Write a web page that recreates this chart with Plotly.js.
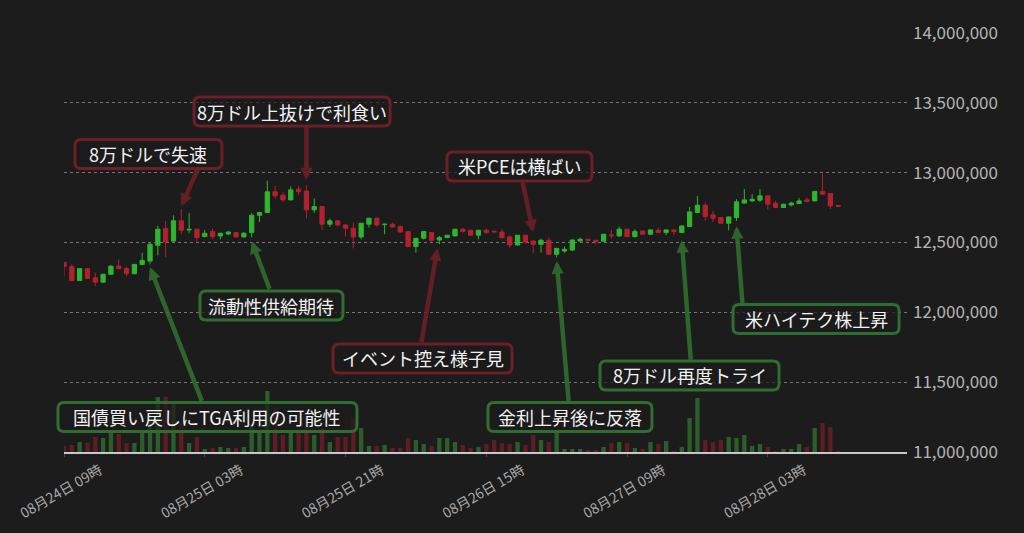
<!DOCTYPE html>
<html>
<head>
<meta charset="utf-8">
<script src="https://cdn.plot.ly/plotly-3.0.1.min.js"></script>
<style>
html,body{margin:0;padding:0;background:#1c1c1c;}
#chart{width:1024px;height:533px;}
</style>
</head>
<body>
<div id="chart"></div>
<script>
// hourly candles starting 08/24 09:00
const startTime = Date.UTC(2025, 7, 24, 9);
const openP = [
12356000,12327000,12228000,12313000,12248000,12216000,12272000,12331000,12314000,12277000,
12343000,12367000,12480000,12600000,12511000,12655000,12590000,12595000,12542000,12578000,
12547000,12561000,12571000,12540000,12571000,12695000,12715000,12863000,12839000,12805000,
12882000,12868000,12734000,12758000,12631000,12655000,12626000,12602000,12540000,12631000,
12674000,12628000,12631000,12614000,12578000,12471000,12530000,12571000,12518000,12535000,
12547000,12595000,12588000,12552000,12588000,12580000,12575000,12540000,12482000,12552000,
12511000,12487000,12516000,12415000,12439000,12446000,12511000,12523000,12516000,12509000,
12554000,12547000,12595000,12542000,12583000,12559000,12588000,12571000,12590000,12571000,
12614000,12715000,12767000,12698000,12679000,12638000,12679000,12782000,12798000,12803000,
12834000,12782000,12751000,12769000,12779000,12805000,12798000,12866000,12851000,12765000];
const closeP = [
12327000,12228000,12313000,12243000,12216000,12272000,12331000,12313000,12277000,12343000,
12372000,12487000,12595000,12504000,12655000,12588000,12594000,12535000,12566000,12542000,
12566000,12575000,12540000,12566000,12695000,12715000,12863000,12834000,12805000,12877000,
12863000,12734000,12758000,12631000,12655000,12626000,12602000,12540000,12638000,12674000,
12626000,12631000,12611000,12575000,12471000,12530000,12578000,12516000,12535000,12552000,
12595000,12578000,12552000,12588000,12571000,12577000,12535000,12482000,12552000,12504000,
12487000,12516000,12415000,12458000,12451000,12518000,12523000,12516000,12509000,12559000,
12549000,12595000,12542000,12578000,12559000,12590000,12571000,12590000,12578000,12619000,
12719000,12767000,12686000,12674000,12638000,12683000,12791000,12805000,12810000,12834000,
12774000,12751000,12774000,12782000,12798000,12794000,12866000,12846000,12762000,12758000];
const highP = [
12360000,12343000,12316000,12318000,12286000,12276000,12336000,12379000,12327000,12347000,
12427000,12501000,12619000,12655000,12695000,12739000,12710000,12598000,12590000,12600000,
12569000,12583000,12575000,12575000,12710000,12719000,12943000,12906000,12859000,12902000,
12906000,12911000,12815000,12761000,12672000,12662000,12628000,12643000,12640000,12676000,
12679000,12633000,12643000,12624000,12580000,12532000,12583000,12573000,12547000,12553000,
12597000,12604000,12590000,12590000,12600000,12588000,12595000,12552000,12554000,12554000,
12513000,12528000,12535000,12461000,12471000,12523000,12535000,12526000,12518000,12561000,
12590000,12614000,12597000,12595000,12585000,12592000,12607000,12592000,12592000,12621000,
12755000,12834000,12787000,12726000,12681000,12686000,12810000,12882000,12846000,12882000,
12837000,12798000,12777000,12791000,12818000,12823000,12868000,12990000,12854000,12767000];
const lowP = [
12259000,12223000,12225000,12238000,12188000,12212000,12268000,12308000,12259000,12272000,
12340000,12343000,12408000,12396000,12505000,12559000,12566000,12501000,12539000,12523000,
12523000,12554000,12536000,12536000,12537000,12647000,12712000,12815000,12787000,12802000,
12839000,12672000,12710000,12590000,12611000,12614000,12542000,12458000,12523000,12607000,
12614000,12559000,12607000,12571000,12468000,12427000,12523000,12504000,12487000,12533000,
12544000,12573000,12548000,12523000,12564000,12564000,12528000,12463000,12480000,12492000,
12427000,12427000,12413000,12392000,12427000,12439000,12504000,12513000,12487000,12506000,
12528000,12544000,12540000,12535000,12556000,12556000,12569000,12552000,12554000,12568000,
12611000,12712000,12655000,12647000,12635000,12588000,12655000,12779000,12791000,12791000,
12734000,12746000,12748000,12758000,12776000,12787000,12795000,12843000,12739000,12755000];
const volume = [
6,7,10,9,15,14,19,18,9,9,
20,37,55,55,49,29,9,15,3,4,
5,4,4,5,28,20,61,44,17,20,
19,35,17,24,10,15,15,35,24,6,
6,7,4,4,14,12,8,6,14,14,
10,7,4,5,8,12,9,8,10,7,
17,12,10,20,3,3,3,2,2,5,
9,10,9,4,3,10,8,11,1,5,
34,54,12,10,12,15,14,17,6,8,
5,1,3,3,8,5,24,29,25,1];

const tickVals = ['2025-08-24 09:00','2025-08-25 03:00','2025-08-25 21:00','2025-08-26 15:00','2025-08-27 09:00','2025-08-28 03:00'];
const tickText = ['08月24日 09時','08月25日 03時','08月25日 21時','08月26日 15時','08月27日 09時','08月28日 03時'];
const priceTicks = [11000000,11500000,12000000,12500000,13000000,13500000,14000000];

// annotations: label, tone, arrow target (time, price)
const noteText = ['8万ドルで失速','8万ドル上抜けで利食い','米PCEは横ばい','流動性供給期待','イベント控え様子見','国債買い戻しにTGA利用の可能性','金利上昇後に反落','8万ドル再度トライ','米ハイテク株上昇'];
const noteTone = ['down','down','down','up','down','up','up','up','up'];
const noteTime = ['2025-08-25 00:00','2025-08-25 16:00','2025-08-26 21:00','2025-08-25 09:00','2025-08-26 08:45','2025-08-24 20:00','2025-08-27 00:00','2025-08-27 16:00','2025-08-27 23:00'];
const notePrice = [12760000,12947000,12573000,12509000,12458000,12322000,12365000,12516000,12616000];

// layout of the label boxes: centre (paper coords) and outer size in px; arrow tails (px offsets)
const boxPos = [[0.1002,0.7112,147],[0.2705,0.8126,196],[0.5403,0.6814,145],[0.2461,0.3496,143],[0.4253,0.2232,179],[0.1702,0.0835,299],[0.6002,0.0835,164],[0.7420,0.1826,179],[0.8921,0.3174,166]];
const boxH = 29, boxR = 6;
const tailOff = [[17,-38],[0,-55],[-11,-52],[18,48],[-16,94],[52,134],[12,140],[9,120],[6,78]];

const times = openP.map((_, i) => new Date(startTime + i*3600000).toISOString().slice(0,16).replace('T',' '));

const UP = '#2fb52f', DOWN = '#b3212e';
const VUP = '#2b5e2a', VDOWN = '#5e1d23';
const volColors = openP.map((o, i) => closeP[i] >= o ? VUP : VDOWN);

const font = 'Noto Sans CJK JP, Noto Sans, sans-serif';
const M = {l:64, r:117, t:33, b:81};
const PW = 1024 - M.l - M.r, PH = 533 - M.t - M.b;

const traces = [
  {type:'bar', x:times, y:volume, yaxis:'y2', marker:{color:volColors, line:{width:0}}, hoverinfo:'skip', showlegend:false},
  {type:'candlestick', x:times, open:openP, high:highP, low:lowP, close:closeP,
   increasing:{line:{color:UP, width:1}, fillcolor:UP},
   decreasing:{line:{color:DOWN, width:1}, fillcolor:DOWN},
   whiskerwidth:0, hoverinfo:'skip', showlegend:false}
];

function roundRect(cx, cy, w, h, r) {
  const hw = w/2/PW, hh = h/2/PH, rx = r/PW, ry = r/PH;
  const x0 = cx-hw, x1 = cx+hw, y0 = cy-hh, y1 = cy+hh;
  return `M${x0+rx},${y1} L${x1-rx},${y1} Q${x1},${y1} ${x1},${y1-ry} L${x1},${y0+ry} Q${x1},${y0} ${x1-rx},${y0} L${x0+rx},${y0} Q${x0},${y0} ${x0},${y0+ry} L${x0},${y1-ry} Q${x0},${y1} ${x0+rx},${y1} Z`;
}

const annotations = [];
const shapes = [];
noteText.forEach((t, i) => {
  const col = noteTone[i] === 'up' ? 'rgba(47,110,47,0.9)' : 'rgba(108,31,40,0.9)';
  annotations.push({
    x: noteTime[i], y: notePrice[i], xref:'x', yref:'y', text:'', showarrow:true,
    ax: tailOff[i][0], ay: tailOff[i][1], axref:'pixel', ayref:'pixel',
    arrowcolor: col, arrowwidth: 4.5, arrowhead: 2, arrowsize: 0.55, standoff: 0, startstandoff: 0, borderpad:0
  });
});
noteText.forEach((t, i) => {
  const col = noteTone[i] === 'up' ? '#2f6e2f' : '#6c1f28';
  shapes.push({type:'path', xref:'paper', yref:'paper', layer:'above',
    path: roundRect(boxPos[i][0], boxPos[i][1], boxPos[i][2], boxH, boxR),
    fillcolor:'rgba(28,28,28,0.72)', line:{color:col, width:3}});
  annotations.push({
    x: boxPos[i][0], y: boxPos[i][1], xref:'paper', yref:'paper', xanchor:'center', yanchor:'middle',
    text: t, showarrow:false,
    font:{family:font, size:18, color:'#f2f2f2'}
  });
});

const layout = {
  width:1024, height:533,
  paper_bgcolor:'#1c1c1c', plot_bgcolor:'#1c1c1c',
  margin:M,
  font:{family:font, color:'#b0b0b0'},
  showlegend:false,
  boxgap:0.22, bargap:0.45,
  xaxis:{type:'date', range:['2025-08-24 09:00','2025-08-28 20:48'], rangeslider:{visible:false},
    tickvals:tickVals, ticktext:tickText, tickangle:-30, ticklabelshift:36,
    tickfont:{family:font, size:14, color:'#a8a8a8'},
    showgrid:false, zeroline:false, showline:true, linecolor:'#c8c8c8', linewidth:2,
    ticks:'outside', ticklen:3, tickcolor:'#444', fixedrange:true},
  yaxis:{side:'right', range:[11000000,14000000], tickvals:priceTicks, tickformat:',d',
    tickfont:{family:font, size:17, color:'#b4b4b4'}, ticklabelstandoff:5,
    showgrid:true, gridcolor:'rgba(150,150,150,0.75)', griddash:'dot', gridwidth:1,
    zeroline:false, showline:false, ticks:'', fixedrange:true},
  yaxis2:{overlaying:'y', range:[0,419], visible:false, fixedrange:true},
  shapes: shapes,
  annotations: annotations
};

Plotly.newPlot('chart', traces, layout, {displayModeBar:false, staticPlot:true});
</script>
</body>
</html>
